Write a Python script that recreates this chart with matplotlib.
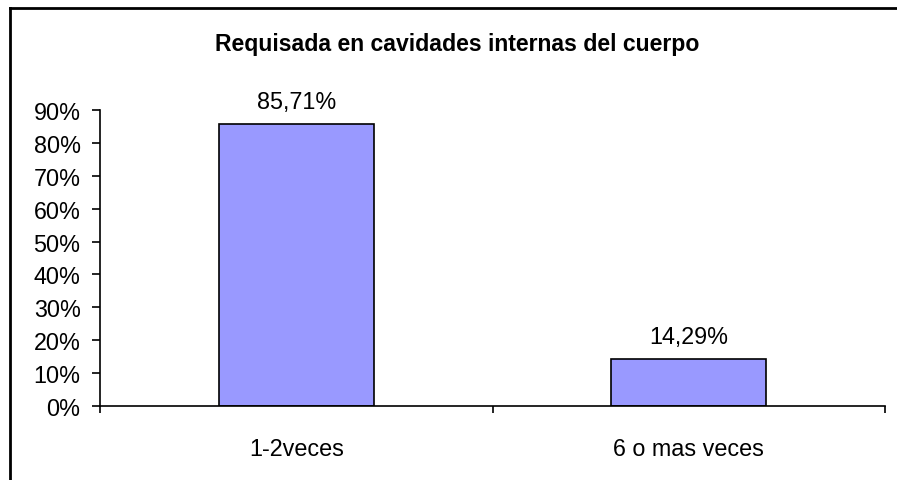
import matplotlib
matplotlib.use('Agg')
import matplotlib.pyplot as plt
from matplotlib.lines import Line2D
from matplotlib.ticker import FuncFormatter

categories = ['1-2veces', '6 o mas veces']
values = [0.8571, 0.1429]
value_labels = ['85,71%', '14,29%']

plt.rcParams['font.family'] = ['Liberation Sans', 'DejaVu Sans']

fig = plt.figure(figsize=(8.97, 4.81), dpi=100)
ax = fig.add_axes([100/897, 1 - 407/481, 785/897, 296/481])

x = list(range(len(categories)))
bars = ax.bar(x, values, width=0.395, color='#9999FF', edgecolor='black', linewidth=1.2)

ax.set_xlim(-0.5, 1.5)
ax.set_ylim(0, 0.9)
ax.set_yticks([i / 10 for i in range(10)])
ax.yaxis.set_major_formatter(FuncFormatter(lambda v, p: '%d%%' % round(v * 100)))
ax.set_xticks([-0.5, 0.5, 1.5])
ax.set_xticklabels([])
ax.set_xticks(x, minor=True)
ax.set_xticklabels(categories, minor=True, fontsize=16.8)
ax.tick_params(axis='x', which='minor', length=0, pad=22)
ax.tick_params(axis='x', which='major', direction='out', length=5, width=1.2)
ax.tick_params(axis='y', direction='out', length=6, width=1.2, labelsize=16.8, pad=8)

for s in ['top', 'right']:
    ax.spines[s].set_visible(False)
for s in ['left', 'bottom']:
    ax.spines[s].set_linewidth(1.2)

for b, lab in zip(bars, value_labels):
    ax.annotate(lab, (b.get_x() + b.get_width() / 2, b.get_height()),
                xytext=(0, 8), textcoords='offset points',
                ha='center', va='bottom', fontsize=16.8)

fig.text(457/897, 1 - 45/481, 'Requisada en cavidades internas del cuerpo',
         ha='center', va='center', fontsize=16.6, fontweight='bold')

# outer frame (only left and top visible in the crop)
fig.add_artist(Line2D([10/897, 10/897], [0, 1 - 9/481], transform=fig.transFigure,
                      color='black', linewidth=2))
fig.add_artist(Line2D([10/897, 1], [1 - 9/481, 1 - 9/481], transform=fig.transFigure,
                      color='black', linewidth=2))

fig.savefig('out.png', dpi=100)
